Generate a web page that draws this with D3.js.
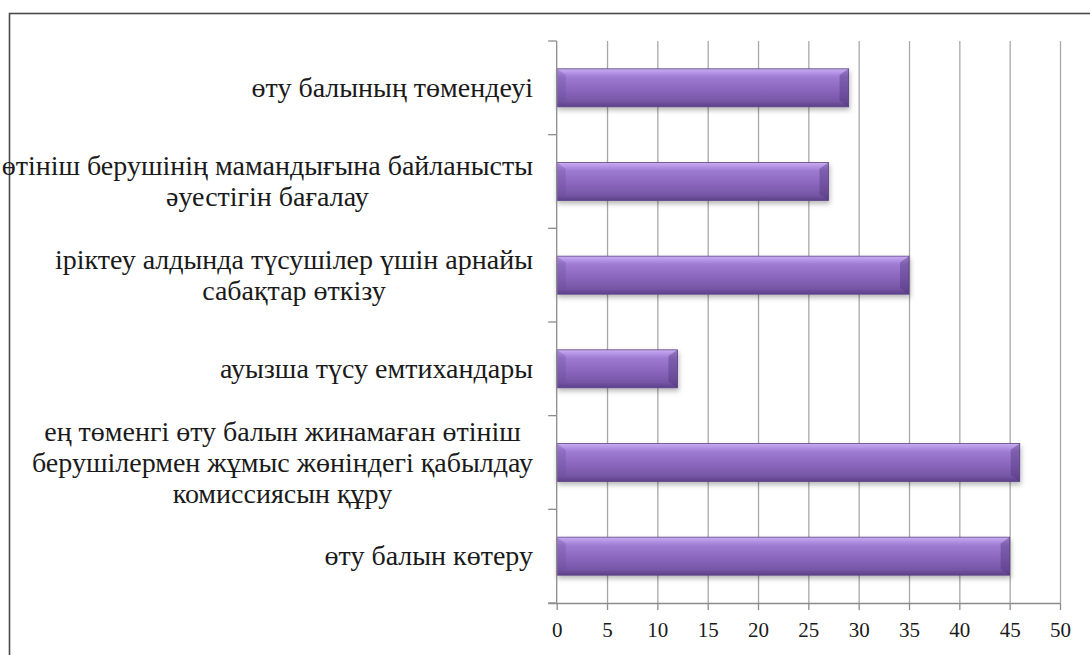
<!DOCTYPE html>
<html>
<head>
<meta charset="utf-8">
<script src="https://cdn.jsdelivr.net/npm/d3@7"></script>
</head>
<body style="margin:0">
<svg id="chart" width="1090" height="655"></svg>
<script>
// Category labels (already split into display lines), top to bottom
const categories = [
  ["өту балының төмендеуі"],
  ["өтініш берушінің мамандығына байланысты", "әуестігін бағалау"],
  ["іріктеу алдында түсушілер үшін арнайы", "сабақтар өткізу"],
  ["ауызша түсу емтихандары"],
  ["ең төменгі өту балын жинамаған өтініш", "берушілермен жұмыс жөніндегі қабылдау", "комиссиясын құру"],
  ["өту балын көтеру"]
];
const values = [29, 27, 35, 12, 46, 45];
const xTicks = [0, 5, 10, 15, 20, 25, 30, 35, 40, 45, 50];

const serif = "'Liberation Serif'";
const svg = d3.select("#chart");
const plot = { left: 556.7, right: 1060, top: 41, bottom: 603 };

const ids = categories.map((c, i) => "c" + i);
const x = d3.scaleLinear().domain([0, 50]).range([plot.left, plot.right]);
const y = d3.scaleBand().domain(ids).range([plot.top, plot.bottom])
  .paddingInner(0.594).paddingOuter(0.297);

// Outer frame
svg.append("rect")
  .attr("x", 9.5).attr("y", 13.5).attr("width", 1200).attr("height", 800)
  .attr("fill", "none").attr("stroke", "#4a4a4a").attr("stroke-width", 1.6);

// Gradient and shadow for the bevelled bars
const defs = svg.append("defs");
const vg = defs.append("linearGradient").attr("id", "barFill")
  .attr("x1", 0).attr("y1", 0).attr("x2", 0).attr("y2", 1);
[[0, "#c9aef0"], [0.1, "#b595e6"], [0.22, "#9d7bd1"], [0.55, "#8a67bd"],
 [0.85, "#7656a6"], [1, "#5c4088"]].forEach(([o, c]) =>
  vg.append("stop").attr("offset", o).attr("stop-color", c));

const sh = defs.append("filter").attr("id", "shadow")
  .attr("x", "-5%").attr("y", "-30%").attr("width", "115%").attr("height", "180%");
sh.append("feDropShadow").attr("dx", 1).attr("dy", 3)
  .attr("stdDeviation", 2.5).attr("flood-color", "#000").attr("flood-opacity", 0.28);

// Vertical gridlines
svg.append("g")
  .attr("transform", `translate(0,${plot.top})`)
  .call(d3.axisBottom(x).tickValues(xTicks.slice(1)).tickSize(plot.bottom - plot.top).tickFormat(""))
  .call(g => g.select(".domain").remove())
  .call(g => g.selectAll(".tick line").attr("stroke", "#a8a8a8").attr("stroke-width", 1.3));

// Bars
const bars = svg.append("g").selectAll("g.bar")
  .data(values).join("g").attr("class", "bar");

bars.append("rect")
  .attr("x", x(0))
  .attr("y", (d, i) => y(ids[i]))
  .attr("width", d => x(d) - x(0))
  .attr("height", y.bandwidth())
  .attr("fill", "url(#barFill)")
  .attr("stroke", "#5e4488").attr("stroke-width", 0.8)
  .attr("filter", "url(#shadow)");

// Bevel caps at the bar ends
const bev = 9;
bars.append("polygon")
  .attr("points", (d, i) => {
    const x1 = x(d), y0 = y(ids[i]), y1 = y0 + y.bandwidth();
    return `${x1},${y0} ${x1},${y1} ${x1 - bev},${y1 - bev * 0.7} ${x1 - bev},${y0 + bev * 0.7}`;
  })
  .attr("fill", "#4e3278").attr("opacity", 0.4);
bars.append("polygon")
  .attr("points", (d, i) => {
    const x0 = x(0), y0 = y(ids[i]), y1 = y0 + y.bandwidth();
    return `${x0},${y0} ${x0},${y1} ${x0 + bev},${y1 - bev * 0.7} ${x0 + bev},${y0 + bev * 0.7}`;
  })
  .attr("fill", "#6a4d98").attr("opacity", 0.3);

// Category axis line and boundary ticks
svg.append("line")
  .attr("x1", plot.left).attr("x2", plot.left)
  .attr("y1", plot.top).attr("y2", plot.bottom)
  .attr("stroke", "#8c8c8c").attr("stroke-width", 1.3);
d3.range(ids.length + 1).forEach(i => {
  const yy = plot.top + i * y.step();
  svg.append("line")
    .attr("x1", plot.left - 8.5).attr("x2", plot.left)
    .attr("y1", yy).attr("y2", yy)
    .attr("stroke", "#8c8c8c").attr("stroke-width", 1.3);
});

// Value axis; baselines given in pixels, labels shifted back by half their width
const tickFs = 21;
svg.append("g")
  .attr("transform", `translate(0,${plot.bottom})`)
  .call(d3.axisBottom(x).tickValues(xTicks).tickSize(7).tickPadding(12))
  .call(g => g.attr("font-family", null).attr("font-size", null).attr("text-anchor", null))
  .call(g => g.select(".domain").attr("d", `M${plot.left - 8.5},0.5H${plot.right}`)
    .attr("stroke", "#8c8c8c").attr("stroke-width", 1.3))
  .call(g => g.selectAll(".tick line").attr("stroke", "#8c8c8c").attr("stroke-width", 1.3))
  .call(g => g.selectAll(".tick text")
    .style("font-family", serif).attr("font-size", tickFs)
    .attr("dy", null).attr("y", 19 + Math.round(tickFs * 0.71))
    .attr("text-anchor", "start").attr("fill", "#1a1a1a")
    .each(function () {
      d3.select(this).attr("x", -this.getComputedTextLength() / 2);
    }));

// Category labels: each line centred within a block whose right edge sits near the axis
const labelRight = 533, lineH = 31, fs = 28;
categories.forEach((lines, i) => {
  const cy = y(ids[i]) + y.bandwidth() / 2;
  const t = svg.append("text")
    .style("font-family", serif)
    .attr("font-size", fs)
    .attr("fill", "#1a1a1a");
  lines.forEach((ln, k) => {
    t.append("tspan").text(ln)
      .attr("y", cy + (k - (lines.length - 1) / 2) * lineH + fs * 0.33);
  });
  const spans = t.selectAll("tspan").nodes();
  const widths = spans.map(n => n.getComputedTextLength());
  const w = d3.max(widths);
  const mid = labelRight - w / 2;
  spans.forEach((n, k) => d3.select(n).attr("x", mid - widths[k] / 2));
});
</script>
</body>
</html>
